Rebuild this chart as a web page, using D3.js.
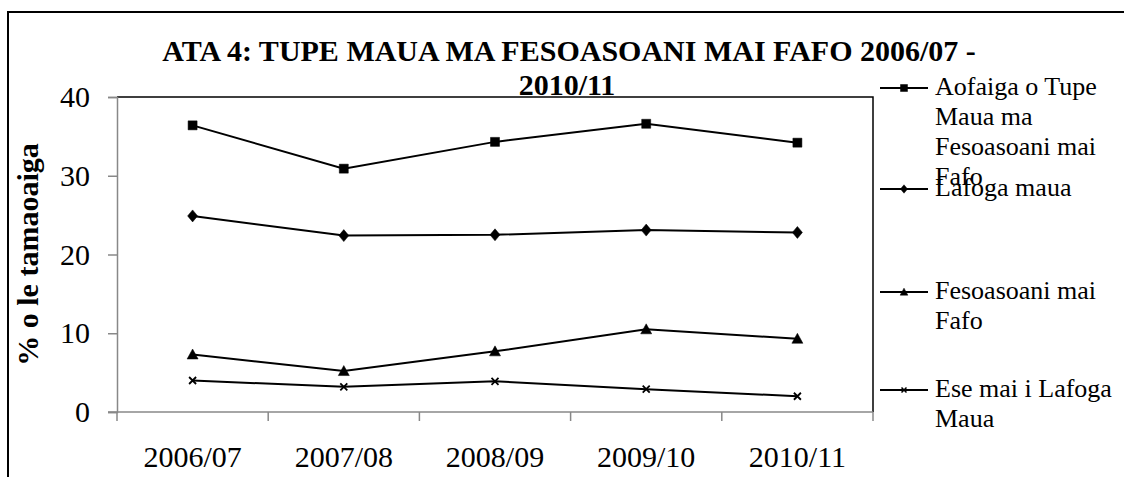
<!DOCTYPE html>
<html>
<head>
<meta charset="utf-8">
<script src="https://cdn.jsdelivr.net/npm/d3@7"></script>
<style>
body { margin:0; background:#fff; }
svg { display:block; font-family:"Liberation Serif","Times New Roman",serif; }
</style>
</head>
<body>
<div id="plot"></div>
<script>
// data
var years = ['2006/07','2007/08','2008/09','2009/10','2010/11'];
var aofaiga = [36.4, 30.9, 34.3, 36.6, 34.2];
var lafoga = [24.9, 22.4, 22.5, 23.1, 22.8];
var fesoasoani = [7.3, 5.2, 7.7, 10.5, 9.3];
var ese = [4.0, 3.2, 3.9, 2.9, 2.0];
var yTicks = [0, 10, 20, 30, 40];
var seriesNames = [
	['Aofaiga o Tupe', 'Maua ma', 'Fesoasoani mai', 'Fafo'],
	['Lafoga maua'],
	['Fesoasoani mai', 'Fafo'],
	['Ese mai i Lafoga', 'Maua']
];
var seriesValues = [aofaiga, lafoga, fesoasoani, ese];
var seriesSymbols = ['square', 'diamond', 'triangle', 'cross'];

var W = 1124, H = 477;
var svg = d3.select('#plot').append('svg')
	.attr('width', W)
	.attr('height', H);

// outer chart border (right and bottom fall off the page)
svg.append('rect')
	.attr('x', 8).attr('y', 12)
	.attr('width', 1130).attr('height', 480)
	.attr('fill', 'none')
	.attr('stroke', '#000')
	.attr('stroke-width', 2);

var x = d3.scaleBand().domain(years).range([117, 873]);
var y = d3.scaleLinear().domain([0, 40]).range([412, 97]);

// plot frame: top and right in black
svg.append('path')
	.attr('d', 'M' + x.range()[0] + ',' + y(40) + 'H' + x.range()[1] + 'V' + y(0))
	.attr('fill', 'none')
	.attr('stroke', '#000')
	.attr('stroke-width', 1.5);

// y axis
var yAxis = svg.append('g')
	.attr('transform', 'translate(' + x.range()[0] + ',0)')
	.call(d3.axisLeft(y).tickValues(yTicks).tickSize(9).tickPadding(18));
yAxis.select('.domain').attr('stroke', '#888').attr('stroke-width', 1.5);
yAxis.selectAll('.tick line').attr('stroke', '#888').attr('stroke-width', 1.5);
yAxis.selectAll('.tick text')
	.attr('font-size', 30)
	.attr('font-family', '"Liberation Serif", serif')
	.attr('fill', '#000');

// x axis line and ticks at band edges
var edges = years.map(function(c){ return x(c); }).concat([x.range()[1]]);
svg.append('line')
	.attr('x1', x.range()[0] - 9).attr('x2', x.range()[1])
	.attr('y1', y(0)).attr('y2', y(0))
	.attr('stroke', '#888').attr('stroke-width', 1.5);
svg.selectAll('.xtick').data(edges).enter().append('line')
	.attr('class', 'xtick')
	.attr('x1', function(d){ return d; }).attr('x2', function(d){ return d; })
	.attr('y1', y(0)).attr('y2', y(0) + 9)
	.attr('stroke', '#888').attr('stroke-width', 1.5);

var xAxis = svg.append('g')
	.attr('transform', 'translate(0,' + y(0) + ')')
	.call(d3.axisBottom(x).tickSize(0).tickPadding(34));
xAxis.select('.domain').remove();
xAxis.selectAll('.tick text')
	.attr('font-size', 30)
	.attr('font-family', '"Liberation Serif", serif')
	.attr('fill', '#000');

// y axis title
svg.append('text')
	.attr('transform', 'translate(38,' + ((y(0) + y(40)) / 2) + ') rotate(-90)')
	.attr('text-anchor', 'middle')
	.attr('font-size', 30)
	.attr('font-weight', 'bold')
	.text('% o le tamaoaiga');

// title
svg.append('text')
	.attr('x', 569).attr('y', 61)
	.attr('text-anchor', 'middle')
	.attr('font-size', 30)
	.attr('font-weight', 'bold')
	.text('ATA 4: TUPE MAUA MA FESOASOANI MAI FAFO 2006/07 -');
svg.append('text')
	.attr('x', 567).attr('y', 95)
	.attr('text-anchor', 'middle')
	.attr('font-size', 30)
	.attr('font-weight', 'bold')
	.text('2010/11');

function symbolPath(type, s) {
	if (type == 'square') return d3.symbol(d3.symbolSquare, s * s)();
	if (type == 'diamond') return 'M0,' + (-s * 0.6) + 'L' + (s * 0.5) + ',0L0,' + (s * 0.6) + 'L' + (-s * 0.5) + ',0Z';
	if (type == 'triangle') return 'M0,' + (-s * 0.55) + 'L' + (s * 0.55) + ',' + (s * 0.45) + 'L' + (-s * 0.55) + ',' + (s * 0.45) + 'Z';
	var h = s / 2;
	return 'M' + (-h) + ',' + (-h) + 'L' + h + ',' + h + 'M' + h + ',' + (-h) + 'L' + (-h) + ',' + h;
}

var line = d3.line()
	.x(function(d, i){ return x(years[i]) + x.bandwidth() / 2; })
	.y(function(d){ return y(d); });

seriesValues.forEach(function(vals, k){
	var g = svg.append('g');
	g.append('path')
		.attr('d', line(vals))
		.attr('fill', 'none')
		.attr('stroke', '#000')
		.attr('stroke-width', 2);
	var type = seriesSymbols[k];
	var size = type == 'square' ? 9 : (type == 'cross' ? 7 : 10);
	g.selectAll('path.mark').data(vals).enter().append('path')
		.attr('class', 'mark')
		.attr('transform', function(d, i){ return 'translate(' + (x(years[i]) + x.bandwidth() / 2) + ',' + y(d) + ')'; })
		.attr('d', symbolPath(type, size))
		.attr('fill', type == 'cross' ? 'none' : '#000')
		.attr('stroke', '#000')
		.attr('stroke-width', type == 'cross' ? 1.8 : 0.5);
});

// legend
var legendY = [88, 189, 292, 390];
seriesNames.forEach(function(lines, k){
	var g = svg.append('g').attr('transform', 'translate(880,' + legendY[k] + ')');
	g.append('line')
		.attr('x1', 0).attr('x2', 48)
		.attr('stroke', '#000').attr('stroke-width', 2);
	var type = seriesSymbols[k];
	g.append('path')
		.attr('transform', 'translate(24,0)')
		.attr('d', symbolPath(type, type == 'cross' ? 5 : 7))
		.attr('fill', type == 'cross' ? 'none' : '#000')
		.attr('stroke', '#000')
		.attr('stroke-width', type == 'cross' ? 1.5 : 0.5);
	var t = g.append('text')
		.attr('x', 55).attr('y', 7)
		.attr('font-size', 26);
	lines.forEach(function(s, j){
		t.append('tspan')
			.attr('x', 55)
			.attr('dy', j == 0 ? 0 : 30)
			.text(s);
	});
});
</script>
</body>
</html>
